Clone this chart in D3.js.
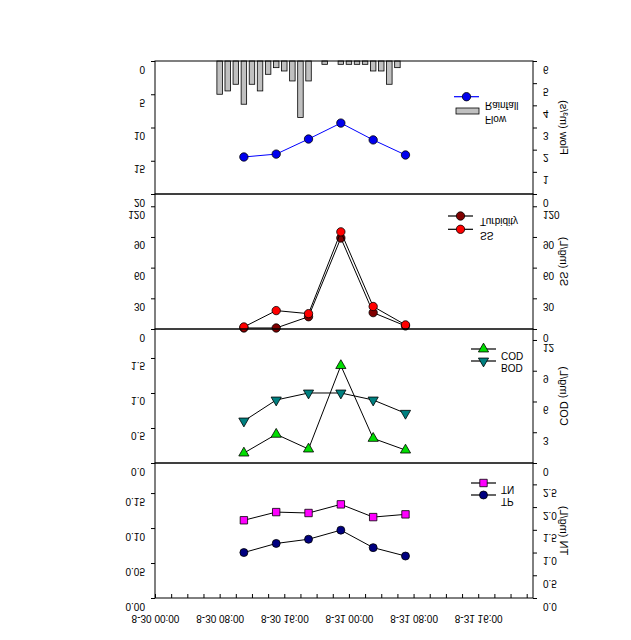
<!DOCTYPE html>
<html><head><meta charset="utf-8">
<script src="https://cdn.jsdelivr.net/npm/d3@7"></script>
<style>
body{margin:0;background:#fff}
svg{display:block}
text{font-family:"Liberation Sans",Arial,sans-serif;fill:#000}
</style>
</head><body>
<svg id="c" width="631" height="640"></svg>
<script>
// ---------------- DATA ----------------
const sampleTimes = ["2020-08-30 11:00","2020-08-30 15:00","2020-08-30 19:00","2020-08-30 23:00","2020-08-31 03:00","2020-08-31 07:00"];
const flow = [1.67, 1.80, 2.48, 3.20, 2.44, 1.76];
const rainTimes = ["2020-08-30 08:00","2020-08-30 09:00","2020-08-30 10:00","2020-08-30 11:00","2020-08-30 12:00","2020-08-30 13:00",
  "2020-08-30 14:00","2020-08-30 15:00","2020-08-30 16:00","2020-08-30 17:00","2020-08-30 18:00","2020-08-30 19:00",
  "2020-08-30 20:00","2020-08-30 21:00","2020-08-30 22:00","2020-08-30 23:00","2020-08-31 00:00","2020-08-31 01:00",
  "2020-08-31 02:00","2020-08-31 03:00","2020-08-31 04:00","2020-08-31 05:00","2020-08-31 06:00"];
const rainfall = [5.0, 4.5, 3.5, 6.5, 3.5, 4.5, 2.0, 1.0, 1.5, 3.0, 8.5, 3.0, 0, 0.5, 0, 0.5, 0.5, 0.5, 0.5, 1.5, 1.5, 3.5, 1.0];
const turbidity = [1, 1, 12, 89, 16, 3];
const ss = [2, 18, 15, 95, 22, 4];
const cod = [0.97, 2.8, 1.36, 9.5, 2.4, 1.26];
const bod = [0.60, 0.90, 1.00, 1.00, 0.90, 0.71];
const tn = [1.71, 1.89, 1.87, 2.06, 1.78, 1.84];
const tp = [0.065, 0.078, 0.084, 0.097, 0.072, 0.060];

const rainTicks = [0, 5, 10, 15, 20];
const flowTicks = [0, 1, 2, 3, 4, 5, 6];
const ssTicks = [0, 30, 60, 90, 120];
const bodTicks = [0, 0.5, 1.0, 1.5];
const codTicks = [0, 3, 6, 9, 12];
const tpTicks = [0, 0.05, 0.10, 0.15];
const tnTicks = [0, 0.5, 1.0, 1.5, 2.0, 2.5];
const xLabelTimes = ["2020-08-30 00:00","2020-08-30 08:00","2020-08-30 16:00","2020-08-31 00:00","2020-08-31 08:00","2020-08-31 16:00"];

// ---------------- LAYOUT ----------------
const parse = d3.timeParse("%Y-%m-%d %H:%M");
const fmtX = d3.timeFormat("%-m-%d %H:%M");
const L = 155, R = 533;
const panels = [[61,194],[194,329],[329,463],[463,598]];
const t0 = parse("2020-08-30 00:00");
const t1 = new Date(+t0 + 46.78*3600e3);
const x = d3.scaleTime().domain([t0, t1]).range([L, R]);

const svg = d3.select("#c");

const yRain = d3.scaleLinear().domain([0,20]).range([61,194]);
const yFlow = d3.scaleLinear().domain([0,6]).range([194,61]);
const ySS = d3.scaleLinear().domain([0,132]).range([329,194]);
const yBOD = d3.scaleLinear().domain([0,1.914]).range([463,329]);
const yCOD = d3.scaleLinear().domain([0,13.07]).range([463,329]);
const yTP = d3.scaleLinear().domain([0,0.193]).range([598,463]);
const yTN = d3.scaleLinear().domain([0,2.97]).range([598,463]);

function flipAt(sel, dy){
  sel.attr("y",0).attr("dy",null).attr("transform",`translate(0,${dy}) scale(1,-1)`);
}
function flippedText(g, tx, ty, str, size, anchor){
  return g.append("text").attr("transform",`translate(${tx},${ty}) scale(1,-1)`)
    .attr("font-size",size).attr("text-anchor",anchor||"start").text(str);
}

function yAxis(scale, ticks, fmt, side){
  const ax = (side==="left"?d3.axisLeft(scale):d3.axisRight(scale))
    .tickValues(ticks).tickFormat(fmt).tickSizeInner(4).tickSizeOuter(0).tickPadding(6);
  const g = svg.append("g").attr("transform",`translate(${side==="left"?L:R},0)`).call(ax);
  g.select(".domain").remove();
  g.selectAll(".tick line").attr("stroke","#000");
  g.selectAll(".tick text").attr("font-size",10).call(flipAt,4);
}
yAxis(yRain, rainTicks, d3.format("d"), "left");
yAxis(yFlow, flowTicks, d3.format("d"), "right");
yAxis(ySS, ssTicks, d3.format("d"), "left");
yAxis(ySS, ssTicks, d3.format("d"), "right");
yAxis(yBOD, bodTicks, d3.format(".1f"), "left");
yAxis(yCOD, codTicks, d3.format("d"), "right");
yAxis(yTP, tpTicks, d3.format(".2f"), "left");
yAxis(yTN, tnTicks, d3.format(".1f"), "right");

// x axis
const labelSet = new Set(xLabelTimes.map(s => +parse(s)));
const xg = svg.append("g").attr("transform",`translate(0,${panels[3][1]})`)
  .call(d3.axisBottom(x).tickValues(d3.timeHour.every(2).range(t0, t1))
    .tickFormat(d => labelSet.has(+d) ? fmtX(d) : "").tickSizeInner(-4).tickSizeOuter(0));
xg.select(".domain").remove();
xg.selectAll(".tick line").attr("stroke","#000");
xg.selectAll(".tick text").attr("font-size",10).call(flipAt,17);

// ---------------- MARKS ----------------
const st = sampleTimes.map(parse);
const rt = rainTimes.map(parse);

// rainfall bars
svg.append("g").selectAll("rect").data(rainfall).join("rect")
  .attr("x",(d,i)=>x(rt[i])-2.75).attr("width",5.5)
  .attr("y",yRain(0)).attr("height",d=>yRain(d)-yRain(0))
  .attr("fill","#c0c0c0").attr("stroke","#000").attr("stroke-width",0.8);

function series(vals, scale, lineColor, symType, fill, size, rot){
  const g = svg.append("g");
  g.append("path").datum(vals)
    .attr("d", d3.line().x((d,i)=>x(st[i])).y(d=>scale(d)))
    .attr("fill","none").attr("stroke",lineColor).attr("stroke-width",1);
  g.selectAll("path.s").data(vals).join("path").attr("class","s")
    .attr("d", d3.symbol().type(symType).size(size))
    .attr("transform",(d,i)=>`translate(${x(st[i])},${scale(d)})${rot?" rotate(180)":""}`)
    .attr("fill",fill).attr("stroke","#000").attr("stroke-width",0.8);
}
series(flow, yFlow, "#0000ff", d3.symbolCircle, "#0000ee", 55);
series(turbidity, ySS, "#000", d3.symbolCircle, "#800000", 55);
series(ss, ySS, "#000", d3.symbolCircle, "#ff0000", 55);
series(bod, yBOD, "#000", d3.symbolTriangle, "#008080", 45, true);
series(cod, yCOD, "#000", d3.symbolTriangle, "#00dd00", 45);
series(tp, yTP, "#000", d3.symbolCircle, "#000080", 50);
series(tn, yTN, "#000", d3.symbolSquare, "#ff00ff", 55);

// frames
svg.append("g").selectAll("rect").data(panels).join("rect")
  .attr("x",L).attr("width",R-L).attr("y",d=>d[0]).attr("height",d=>d[1]-d[0])
  .attr("fill","none").attr("stroke","#000").attr("stroke-width",1);

// ---------------- LEGENDS ----------------
const lg = svg.append("g");
function legLine(x1,x2,y,color,symType,fill,size,rot){
  lg.append("line").attr("x1",x1).attr("x2",x2).attr("y1",y).attr("y2",y).attr("stroke",color).attr("stroke-width",1.2);
  lg.append("path").attr("d",d3.symbol().type(symType).size(size)())
    .attr("transform",`translate(${(x1+x2)/2},${y})${rot?" rotate(180)":""}`)
    .attr("fill",fill).attr("stroke","#000").attr("stroke-width",0.8);
}
legLine(454,479,96.7,"#0000ff",d3.symbolCircle,"#0000ee",55);
lg.append("rect").attr("x",456).attr("y",108).attr("width",23).attr("height",6)
  .attr("fill","#c0c0c0").attr("stroke","#000").attr("stroke-width",0.8);
flippedText(lg,485,101.5,"Rainfall",10);
flippedText(lg,485,115.5,"Flow",10);

legLine(448,473,216,"#000",d3.symbolCircle,"#800000",55);
legLine(448,473,229.3,"#000",d3.symbolCircle,"#ff0000",55);
flippedText(lg,480,218,"Turbidity",10);
flippedText(lg,480,231.5,"SS",10);

legLine(471,496,349,"#000",d3.symbolTriangle,"#00dd00",45);
legLine(471,496,361,"#000",d3.symbolTriangle,"#008080",45,true);
flippedText(lg,501,352,"COD",10);
flippedText(lg,501,364,"BOD",10);

legLine(471,496,483,"#000",d3.symbolSquare,"#ff00ff",55);
legLine(471,496,495,"#000",d3.symbolCircle,"#000080",50);
flippedText(lg,501,486,"TN",10);
flippedText(lg,501,498,"TP",10);

// ---------------- AXIS TITLES (right) ----------------
const titles = ["Flow (m³/s)","SS (mg/L)","COD (mg/L)","TN (mg/L)"];
svg.append("g").selectAll("text").data(titles).join("text")
  .attr("transform",(d,i)=>`translate(560,${(panels[i][0]+panels[i][1])/2}) rotate(-90) scale(1,-1)`)
  .attr("text-anchor","middle").attr("font-size",11).text(d=>d);
</script>
</body></html>
